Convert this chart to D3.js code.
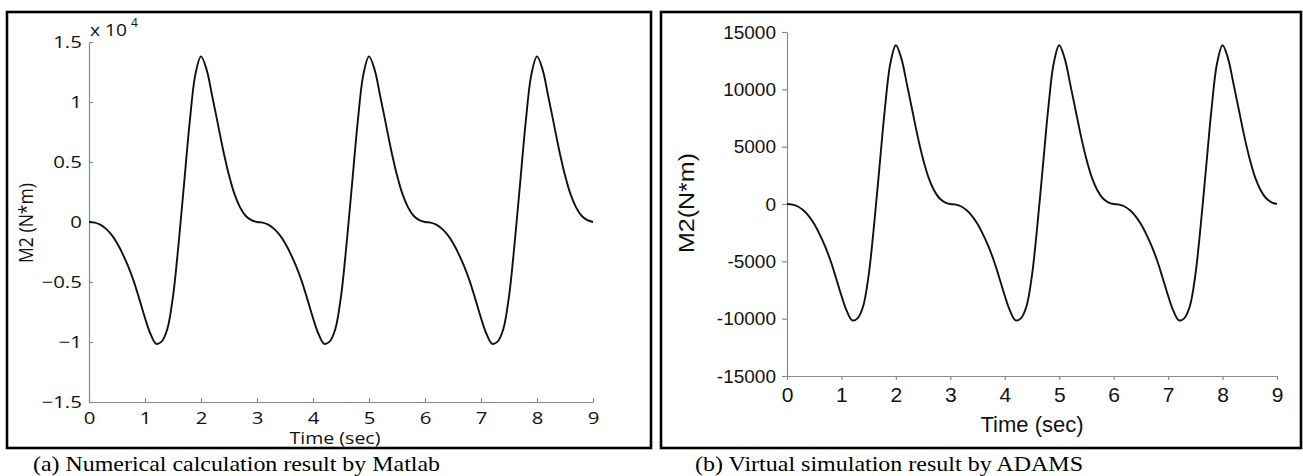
<!DOCTYPE html>
<html><head><meta charset="utf-8">
<script src="https://cdn.jsdelivr.net/npm/d3@7"></script>
<style>body{margin:0;background:#fff} svg{display:block}</style>
</head><body>
<svg id="c" width="1303" height="476"></svg>
<script>
const time = [0,0.1,0.2,0.3,0.4,0.5,0.6,0.7,0.8,0.9,1,1.1,1.2,1.3,1.4,1.5,1.6,1.7,1.8,1.9,2,2.1,2.2,2.3,2.4,2.5,2.6,2.7,2.8,2.9,
3,3.1,3.2,3.3,3.4,3.5,3.6,3.7,3.8,3.9,4,4.1,4.2,4.3,4.4,4.5,4.6,4.7,4.8,4.9,5,5.1,5.2,5.3,5.4,5.5,5.6,5.7,5.8,5.9,
6,6.1,6.2,6.3,6.4,6.5,6.6,6.7,6.8,6.9,7,7.1,7.2,7.3,7.4,7.5,7.6,7.7,7.8,7.9,8,8.1,8.2,8.3,8.4,8.5,8.6,8.7,8.8,8.9,9];
const m2Matlab = [0,-50,-220,-550,-1050,-1750,-2650,-3700,-4950,-6450,-8000,-9350,-10150,-9950,-8900,-6200,-1800,3300,8400,12300,13800,12700,10500,8200,5900,3900,2300,1200,500,150,
0,-50,-220,-550,-1050,-1750,-2650,-3700,-4950,-6450,-8000,-9350,-10150,-9950,-8900,-6200,-1800,3300,8400,12300,13800,12700,10500,8200,5900,3900,2300,1200,500,150,
0,-50,-220,-550,-1050,-1750,-2650,-3700,-4950,-6450,-8000,-9350,-10150,-9950,-8900,-6200,-1800,3300,8400,12300,13800,12700,10500,8200,5900,3900,2300,1200,500,150,0];
const m2Adams = [0,-50,-220,-550,-1050,-1750,-2650,-3700,-4950,-6450,-8000,-9350,-10150,-9950,-8900,-6200,-1800,3300,8400,12300,13850,12700,10500,8200,5900,3900,2300,1200,500,150,
0,-50,-220,-550,-1050,-1750,-2650,-3700,-4950,-6450,-8000,-9350,-10150,-9950,-8900,-6200,-1800,3300,8400,12300,13850,12700,10500,8200,5900,3900,2300,1200,500,150,
0,-50,-220,-550,-1050,-1750,-2650,-3700,-4950,-6450,-8000,-9350,-10150,-9950,-8900,-6200,-1800,3300,8400,12300,13850,12700,10500,8200,5900,3900,2300,1200,500,150,0];
const xTicks = [0,1,2,3,4,5,6,7,8,9];
const yTicks = [-15000,-10000,-5000,0,5000,10000,15000];
const leftYTickLabels = ["−1.5","−1","−0.5","0","0.5","1","1.5"];
const rightYTickLabels = ["-15000","-10000","-5000","0","5000","10000","15000"];
const xLabel = "Time (sec)";
const leftYLabel = "M2 (N*m)";
const rightYLabel = "M2(N*m)";
const captions = ["(a) Numerical calculation result by Matlab", "(b) Virtual simulation result by ADAMS"];

const svg = d3.select("#c");
const AX = "#8a8a8a";

// frames
svg.append("rect").attr("x",7).attr("y",12).attr("width",644).attr("height",436)
  .attr("fill","none").attr("stroke","#000").attr("stroke-width",2.6);
svg.append("rect").attr("x",661).attr("y",12).attr("width",640).attr("height",436)
  .attr("fill","none").attr("stroke","#000").attr("stroke-width",2.6);

function styleAxis(g, font, size){
  g.attr("font-family", font).attr("font-size", size);
  g.select(".domain").attr("stroke", AX).attr("stroke-width",1.2);
  g.selectAll(".tick line").attr("stroke", AX).attr("stroke-width",1.2);
  g.selectAll(".tick text").attr("fill","#111");
}

// ---- Left panel (Matlab) ----
const xL = d3.scaleLinear().domain([0,9]).range([89,593]);
const yL = d3.scaleLinear().domain([-15000,15000]).range([402,42]);
const LF = "'Open Sans', sans-serif";
const gxL = svg.append("g").attr("transform","translate(0,402)")
  .call(d3.axisBottom(xL).tickValues(xTicks).tickSizeInner(-4).tickSizeOuter(0).tickPadding(10));
styleAxis(gxL, LF, 17);
gxL.selectAll(".tick text").attr("transform","scale(1.2,1)");
const gyL = svg.append("g").attr("transform","translate(89,0)")
  .call(d3.axisLeft(yL).tickValues(yTicks).tickFormat((d,i)=>leftYTickLabels[i]).tickSizeInner(-4).tickSizeOuter(0).tickPadding(6));
styleAxis(gyL, LF, 17);
gyL.selectAll(".tick text").attr("transform","scale(1.2,1)");

svg.append("text").attr("x",90).attr("y",36).attr("font-family",LF).attr("font-size",16)
  .attr("fill","#111").attr("textLength",37).attr("lengthAdjust","spacingAndGlyphs").text("x 10");
svg.append("text").attr("x",131).attr("y",27).attr("font-family",LF).attr("font-size",12)
  .attr("fill","#111").text("4");
svg.append("text").attr("x",335).attr("y",444).attr("text-anchor","middle").attr("font-family",LF)
  .attr("font-size",17).attr("fill","#111").attr("textLength",91).attr("lengthAdjust","spacingAndGlyphs").text(xLabel);
svg.append("text").attr("transform","translate(33,223) scale(1.2,1) rotate(-90)").attr("text-anchor","middle")
  .attr("font-family",LF).attr("font-size",17).attr("fill","#111")
  .attr("textLength",80).attr("lengthAdjust","spacingAndGlyphs").text(leftYLabel);

const lineL = d3.line().x((d,i)=>xL(time[i])).y(d=>yL(d)).curve(d3.curveCatmullRom.alpha(0.5));
svg.append("path").attr("d", lineL(m2Matlab)).attr("fill","none").attr("stroke","#111").attr("stroke-width",1.9);

// ---- Right panel (ADAMS) ----
const xR = d3.scaleLinear().domain([0,9]).range([787,1277]);
const yR = d3.scaleLinear().domain([-15000,15000]).range([376,32]);
const RF = "'Liberation Sans', Arial, sans-serif";
const gxR = svg.append("g").attr("transform","translate(0,376)")
  .call(d3.axisBottom(xR).tickValues(xTicks).tickSizeInner(4).tickSizeOuter(0).tickPadding(7));
styleAxis(gxR, RF, 21);
const gyR = svg.append("g").attr("transform","translate(787,0)")
  .call(d3.axisLeft(yR).tickValues(yTicks).tickFormat((d,i)=>rightYTickLabels[i]).tickSizeInner(5).tickSizeOuter(0).tickPadding(6));
styleAxis(gyR, RF, 19);

svg.append("text").attr("x",1032).attr("y",432).attr("text-anchor","middle").attr("font-family",RF)
  .attr("font-size",22).attr("fill","#111").text(xLabel);
svg.append("text").attr("transform","translate(694,203) rotate(-90)").attr("text-anchor","middle")
  .attr("font-family",RF).attr("font-size",22).attr("fill","#111")
  .attr("textLength",100).attr("lengthAdjust","spacingAndGlyphs").text(rightYLabel);

const lineR = d3.line().x((d,i)=>xR(time[i])).y(d=>yR(d)).curve(d3.curveCatmullRom.alpha(0.5));
svg.append("path").attr("d", lineR(m2Adams)).attr("fill","none").attr("stroke","#111").attr("stroke-width",1.9);

// captions
const CF = "'Liberation Serif', 'Times New Roman', serif";
svg.append("text").attr("x",33).attr("y",471).attr("font-family",CF).attr("font-size",21).attr("fill","#000")
  .attr("textLength",407).attr("lengthAdjust","spacingAndGlyphs").text(captions[0]);
svg.append("text").attr("x",695).attr("y",471).attr("font-family",CF).attr("font-size",21).attr("fill","#000")
  .attr("textLength",388).attr("lengthAdjust","spacingAndGlyphs").text(captions[1]);
</script>
</body></html>
